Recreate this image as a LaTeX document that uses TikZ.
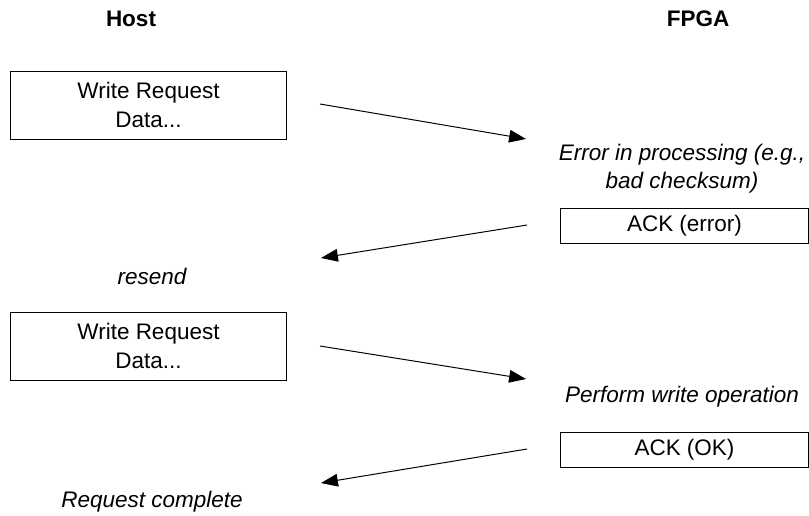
\documentclass[tikz,border=0pt]{standalone}
\usepackage{fontspec}
\setmainfont{Liberation Sans}
\usetikzlibrary{arrows.meta}

\begin{document}
\begin{tikzpicture}[
    x=0.025cm, y=-0.025cm,
    font=\fontsize{16}{20.6}\selectfont,
    msgbox/.style={draw, line width=0.7pt, align=center, inner sep=0pt},
    reqbox/.style={msgbox, minimum width=6.875cm, minimum height=1.7cm},
    ackbox/.style={msgbox, minimum width=6.175cm, minimum height=0.875cm},
    note/.style={align=center, font=\fontsize{16}{20}\selectfont\itshape},
    side/.style={font=\fontsize{16}{20}\selectfont\bfseries},
    arrow/.style={-{Triangle[length=12pt,width=9pt]}, line width=0.7pt}
]
    \useasboundingbox (0,0) rectangle (809,515);

    \node[side] (host) at (131,19) {Host};
    \node[side] (fpga) at (698,19) {FPGA};

    \node[reqbox] (req1) at (148.5,105) {Write Request\\Data...};
    \node[note] (errnote) at (682,169) {Error in processing (e.g.,\\bad checksum)};
    \node[ackbox] (ackerr) at (684.5,225.5) {ACK (error)};
    \node[note] (resend) at (152,276) {resend};
    \node[reqbox] (req2) at (148.5,346) {Write Request\\Data...};
    \node[note] (wrnote) at (682,397) {Perform write operation};
    \node[ackbox] (ackok) at (684.5,449.5) {ACK (OK)};
    \node[note] (done) at (152,502) {Request complete};

    % arrow ends
    \coordinate (s1) at (320,104);  \coordinate (e1) at (526,139);
    \coordinate (s2) at (527,225);  \coordinate (e2) at (321,258);
    \coordinate (s3) at (320,346);  \coordinate (e3) at (526,379);
    \coordinate (s4) at (527,449);  \coordinate (e4) at (321,483);

    \draw[arrow] (s1) -- (e1);
    \draw[arrow] (s2) -- (e2);
    \draw[arrow] (s3) -- (e3);
    \draw[arrow] (s4) -- (e4);
\end{tikzpicture}
\end{document}
